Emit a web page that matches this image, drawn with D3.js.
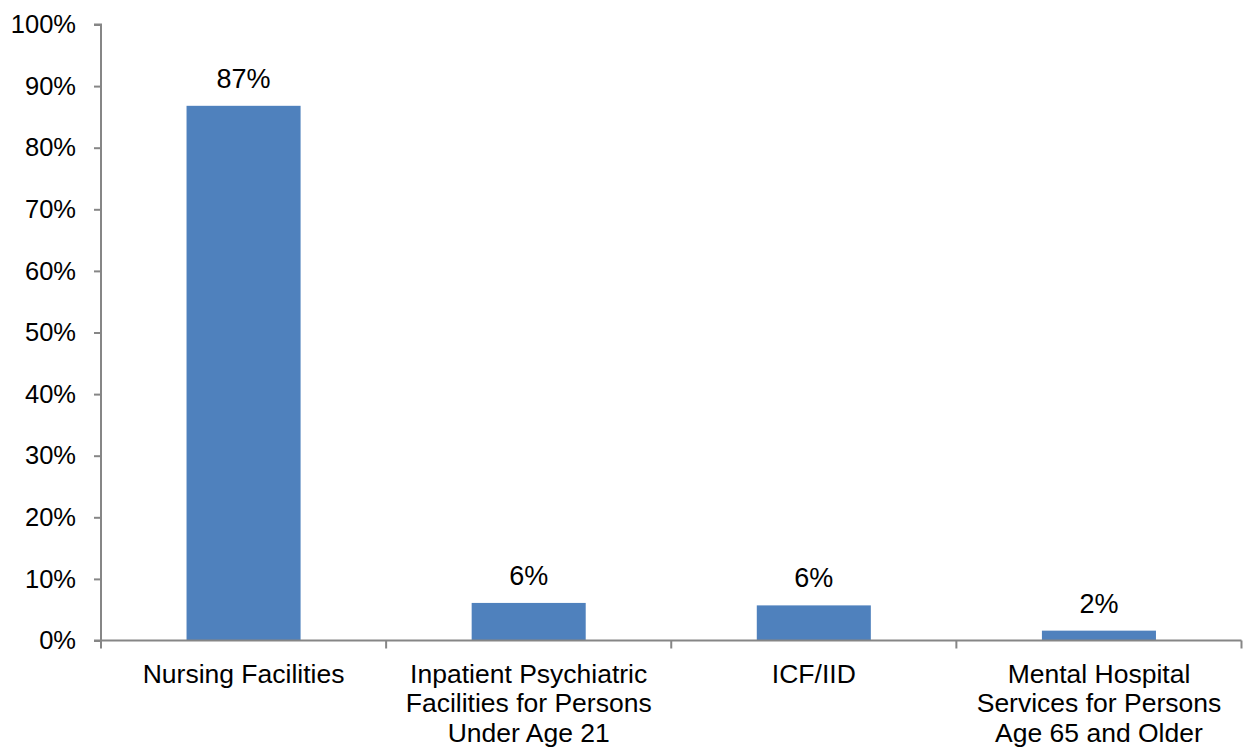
<!DOCTYPE html>
<html>
<head>
<meta charset="utf-8">
<script src="https://cdn.jsdelivr.net/npm/d3@7"></script>
<style>
  html, body { margin: 0; padding: 0; background: #fff; }
  svg { display: block; }
  text { font-family: "Liberation Sans", Arial, sans-serif; fill: #000; }
</style>
</head>
<body>
<svg id="chart" width="1243" height="747"></svg>
<script>
// Share of institutional spending by facility type
const categories = [
  ["Nursing Facilities"],
  ["Inpatient Psychiatric", "Facilities for Persons", "Under Age 21"],
  ["ICF/IID"],
  ["Mental Hospital", "Services for Persons", "Age 65 and Older"]
];
const values = [0.868, 0.061, 0.057, 0.016];
const yTicks = [0, 0.1, 0.2, 0.3, 0.4, 0.5, 0.6, 0.7, 0.8, 0.9, 1.0];

const svg = d3.select("#chart");
const plot = { left: 101, right: 1241.5, top: 24.5, bottom: 640.5 };
const axisColor = "#868686";
const tickFont = 25.5, valueFont = 27, catFont = 26.5;

const x = d3.scaleBand()
  .domain(d3.range(categories.length))
  .range([plot.left, plot.right])
  .paddingInner(0.6)
  .paddingOuter(0.3);

const y = d3.scaleLinear().domain([0, 1]).range([plot.bottom, plot.top]);
const pct = d3.format(".0%");

// Bars
svg.append("g").selectAll("rect")
  .data(values)
  .join("rect")
  .attr("x", (d, i) => x(i))
  .attr("width", x.bandwidth())
  .attr("y", d => y(d))
  .attr("height", d => y(0) - y(d))
  .attr("fill", "#4F81BD");

// Value labels
svg.append("g").selectAll("text")
  .data(values)
  .join("text")
  .attr("x", (d, i) => x(i) + x.bandwidth() / 2)
  .attr("y", d => y(d) - 18)
  .attr("text-anchor", "middle")
  .style("font-size", valueFont + "px")
  .text(d => pct(d));

// Y axis
const yAxis = d3.axisLeft(y)
  .tickValues(yTicks)
  .tickFormat(pct)
  .tickSize(7)
  .tickPadding(18);
const gy = svg.append("g").attr("transform", `translate(${plot.left},0)`).call(yAxis);
gy.select(".domain").attr("stroke", axisColor).attr("stroke-width", 2)
  .attr("d", `M-7,${plot.top}H0V${plot.bottom}`);
gy.selectAll(".tick line").attr("stroke", axisColor).attr("stroke-width", 2);
gy.selectAll(".tick text")
  .style("font-size", tickFont + "px")
  .style("font-family", "'Liberation Sans', Arial, sans-serif")
  .attr("fill", "#000");

// X axis: boundary ticks between categories
const step = x.step();
const boundaries = d3.range(categories.length + 1).map(i => plot.left + i * step);
const gx = svg.append("g");
gx.append("line")
  .attr("x1", plot.left - 7).attr("x2", plot.right)
  .attr("y1", plot.bottom).attr("y2", plot.bottom)
  .attr("stroke", axisColor).attr("stroke-width", 2);
gx.selectAll("line.tk")
  .data(boundaries)
  .join("line")
  .attr("class", "tk")
  .attr("x1", d => Math.min(d, plot.right)).attr("x2", d => Math.min(d, plot.right))
  .attr("y1", plot.bottom).attr("y2", plot.bottom + 8)
  .attr("stroke", axisColor).attr("stroke-width", 2);

// Category labels
const lineH = 29.5;
const labels = svg.append("g").selectAll("text")
  .data(categories)
  .join("text")
  .attr("text-anchor", "middle")
  .style("font-size", catFont + "px")
  .attr("transform", (d, i) => `translate(${x(i) + x.bandwidth() / 2},${plot.bottom + 42})`);
labels.selectAll("tspan")
  .data(d => d)
  .join("tspan")
  .attr("x", 0)
  .attr("y", (d, j) => j * lineH)
  .text(d => d);
</script>
</body>
</html>
